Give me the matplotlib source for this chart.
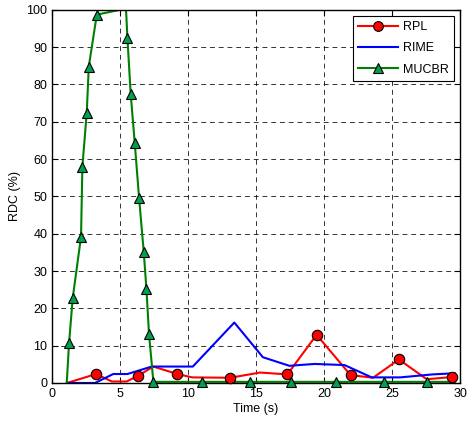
import matplotlib
matplotlib.use("Agg")
from matplotlib import pyplot as plt
from matplotlib.lines import Line2D

plt.rcParams['font.family'] = ['Liberation Sans', 'DejaVu Sans']

# RPL (red) line vertices and marker positions
rpl_x = [1.1, 3.24, 4.39, 5.49, 6.3, 7.45, 9.2, 10.3, 13.1, 15.3, 17.3, 19.45, 21.95, 23.6, 25.5, 27.55, 29.4]
rpl_y = [0, 2.4, 0.4, 0.4, 1.9, 4.4, 2.4, 1.5, 1.4, 2.8, 2.3, 12.9, 2.1, 1.4, 6.3, 1.0, 1.6]
rpl_mx = [3.24, 6.3, 9.2, 13.1, 17.3, 19.45, 21.95, 25.5, 29.4]
rpl_my = [2.4, 1.9, 2.4, 1.4, 2.3, 12.9, 2.1, 6.3, 1.6]

# RIME (blue)
rime_x = [1.1, 3.16, 4.5, 5.54, 7.33, 10.35, 13.4, 15.5, 17.45, 19.3, 21.5, 23.5, 25.6, 28.0, 29.6]
rime_y = [0, 0, 2.4, 2.4, 4.4, 4.4, 16.2, 6.9, 4.6, 5.1, 4.8, 1.5, 1.5, 2.3, 2.6]

# MUCBR (green)
mucbr_x = [1.08, 1.25, 1.52, 2.13, 2.23, 2.55, 2.7, 3.29, 5.0, 5.44, 5.54, 5.78, 6.08, 6.4,
           6.74, 6.94, 7.13, 7.45, 11.05, 14.56, 17.6, 20.9, 24.4, 27.55, 29.6]
mucbr_y = [0, 10.7, 22.8, 39.2, 58.0, 72.4, 84.8, 98.7, 100, 100, 92.5, 77.5, 64.3, 49.5,
           35.2, 25.1, 13.0, 0.3, 0.3, 0.3, 0.3, 0.3, 0.3, 0.3, 0.3]
mucbr_mx = [1.25, 1.52, 2.13, 2.23, 2.55, 2.7, 3.29, 5.54, 5.78, 6.08, 6.4, 6.74, 6.94, 7.13,
            7.45, 11.05, 14.56, 17.6, 20.9, 24.4, 27.55]
mucbr_my = [10.7, 22.8, 39.2, 58.0, 72.4, 84.8, 98.7, 92.5, 77.5, 64.3, 49.5, 35.2, 25.1, 13.0,
            0.3, 0.3, 0.3, 0.3, 0.3, 0.3, 0.3]

xticks = [0, 5, 10, 15, 20, 25, 30]
yticks = [0, 10, 20, 30, 40, 50, 60, 70, 80, 90, 100]

fig = plt.figure(figsize=(4.69, 4.26), dpi=100)
ax = fig.add_axes([0.111, 0.101, 0.870, 0.876])

red, blue, green, gface = '#ff0000', '#0000ff', '#008000', '#00a050'

ax.plot(rpl_x, rpl_y, color=red, lw=1.5)
ax.plot(rpl_mx, rpl_my, ls='none', marker='o', ms=7.5, mfc=red, mec='black', mew=0.8, clip_on=False, zorder=4)
ax.plot(rime_x, rime_y, color=blue, lw=1.5)
ax.plot(mucbr_x, mucbr_y, color=green, lw=1.5)
ax.plot(mucbr_mx, mucbr_my, ls='none', marker='^', ms=7.5, mfc=gface, mec='black', mew=0.8, clip_on=False, zorder=4)

ax.set_xlim(0, 30)
ax.set_ylim(0, 100)
ax.set_xticks(xticks)
ax.set_yticks(yticks)
ax.grid(True, color='black', ls=(0, (5, 4)), lw=0.7, alpha=0.8)
ax.tick_params(direction='in', top=True, right=True, labelsize=9, length=4)
ax.set_xlabel('Time (s)', fontsize=9, labelpad=2)
ax.set_ylabel('RDC (%)', fontsize=9)
for s in ax.spines.values():
    s.set_linewidth(1.0)

handles = [
    Line2D([], [], color=red, lw=1.5, marker='o', ms=7, mfc=red, mec='black', mew=0.8),
    Line2D([], [], color=blue, lw=1.5),
    Line2D([], [], color=green, lw=1.5, marker='^', ms=7, mfc=gface, mec='black', mew=0.8),
]
leg = ax.legend(handles, ['RPL', 'RIME', 'MUCBR'], loc='upper right', fontsize=9,
                fancybox=False, edgecolor='black', framealpha=1, handlelength=3.2,
                borderaxespad=0.5, handletextpad=0.4, labelspacing=0.75)
leg.get_frame().set_linewidth(0.8)

fig.savefig('out.png', dpi=100)
